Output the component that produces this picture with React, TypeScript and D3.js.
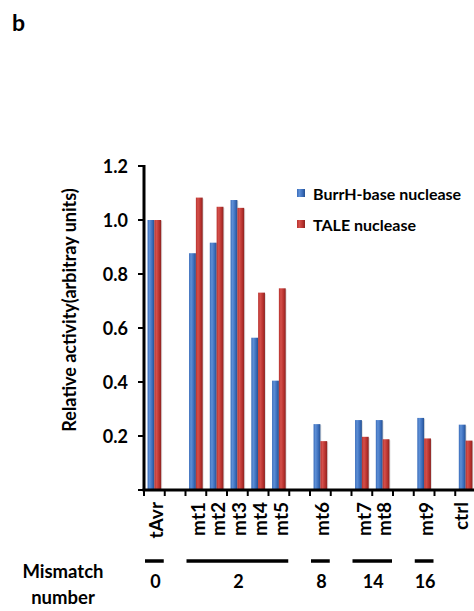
import { useEffect, useRef } from "react";
import * as d3 from "d3";

// categories incl. empty spacer slots (keys starting with _)
const categories = ["tAvr", "_g1", "mt1", "mt2", "mt3", "mt4", "mt5", "_g2", "mt6", "_g3", "mt7", "mt8", "_g4", "mt9", "_g5", "ctrl"];
const labelled = ["tAvr", "mt1", "mt2", "mt3", "mt4", "mt5", "mt6", "mt7", "mt8", "mt9", "ctrl"];
const burrh = [1.0, 0.877, 0.916, 1.074, 0.564, 0.405, 0.244, 0.259, 0.259, 0.267, 0.242];
const tale = [1.0, 1.083, 1.049, 1.045, 0.731, 0.747, 0.181, 0.197, 0.188, 0.191, 0.183];
const yTickValues = [0.2, 0.4, 0.6, 0.8, 1.0, 1.2];
const mismatchGroups = [
  { label: "0", from: "tAvr", to: "tAvr" },
  { label: "2", from: "mt1", to: "mt5" },
  { label: "8", from: "mt6", to: "mt6" },
  { label: "14", from: "mt7", to: "mt8" },
  { label: "16", from: "mt9", to: "mt9" },
];
const seriesNames = ["BurrH-base nuclease", "TALE nuclease"];

const W = 474;
const H = 611;
const M = { left: 144, right: -2, top: 166, bottom: 121 };
const FONT = "Lato, 'Open Sans', sans-serif";

export default function App() {
  const svgRef = useRef<SVGSVGElement>(null);

  useEffect(() => {
    const svg = d3.select(svgRef.current!);
    svg.selectAll("*").remove();

    const x = d3.scaleBand<string>().domain(categories).range([M.left, W - M.right]).padding(0);
    const inner = d3.scaleBand<string>().domain(["b", "t"]).range([0, x.bandwidth()]).paddingOuter(0.52).paddingInner(0);
    const y = d3.scaleLinear().domain([0, 1.2]).range([H - M.bottom, M.top]);

    const defs = svg.append("defs");
    const grad = (id: string, dark: string, mid: string, light: string) => {
      const g = defs.append("linearGradient").attr("id", id).attr("x1", 0).attr("x2", 1).attr("y1", 0).attr("y2", 0);
      g.append("stop").attr("offset", "0%").attr("stop-color", mid);
      g.append("stop").attr("offset", "30%").attr("stop-color", light);
      g.append("stop").attr("offset", "70%").attr("stop-color", mid);
      g.append("stop").attr("offset", "100%").attr("stop-color", dark);
    };
    grad("gBlue", "#24508f", "#3a6cba", "#5d8fd6");
    grad("gRed", "#8a2220", "#b8322e", "#d4504b");

    // panel letter
    svg.append("text").attr("x", 12).attr("y", 31).attr("font-family", FONT).attr("font-weight", 700)
      .attr("font-size", 23).text("b");

    // bars
    const gBars = svg.append("g");
    labelled.forEach((c, i) => {
      const bx = x(c)!;
      [
        { k: "b", v: burrh[i], fill: "url(#gBlue)" },
        { k: "t", v: tale[i], fill: "url(#gRed)" },
      ].forEach((s) => {
        const x0 = bx + inner(s.k)!;
        gBars.append("rect").attr("x", x0 + 1).attr("y", y(s.v) + 1).attr("width", inner.bandwidth())
          .attr("height", y(0) - y(s.v)).attr("fill", "#000").attr("opacity", 0.12);
        gBars.append("rect").attr("x", x0).attr("y", y(s.v)).attr("width", inner.bandwidth())
          .attr("height", y(0) - y(s.v)).attr("fill", s.fill);
      });
    });

    // y axis
    const yAxis = svg.append("g");
    yAxis.append("line").attr("x1", M.left).attr("x2", M.left).attr("y1", y(1.2) - 1).attr("y2", y(0))
      .attr("stroke", "#000").attr("stroke-width", 3);
    [0, ...yTickValues].forEach((v) => {
      yAxis.append("line").attr("x1", M.left - 6).attr("x2", M.left).attr("y1", y(v)).attr("y2", y(v))
        .attr("stroke", "#000").attr("stroke-width", 2);
    });
    yTickValues.forEach((v) => {
      yAxis.append("text").attr("x", M.left - 16).attr("y", y(v) + 1).attr("dy", "0.36em").attr("text-anchor", "end")
        .attr("font-family", FONT).attr("font-weight", 700).attr("font-size", 18).text(v.toFixed(1));
    });
    svg.append("text").attr("transform", `translate(76,310) rotate(-90)`)
      .attr("text-anchor", "middle").attr("font-family", FONT).attr("font-weight", 700).attr("font-size", 18)
      .text("Relative activity(arbitray units)");

    // x axis
    const xAxis = svg.append("g");
    xAxis.append("line").attr("x1", M.left - 1.5).attr("x2", W).attr("y1", y(0)).attr("y2", y(0))
      .attr("stroke", "#000").attr("stroke-width", 3);
    categories.forEach((c) => {
      const tx = x(c)!;
      xAxis.append("line").attr("x1", tx).attr("x2", tx).attr("y1", y(0)).attr("y2", y(0) + 6)
        .attr("stroke", "#000").attr("stroke-width", 2);
    });
    labelled.forEach((c) => {
      const cx = Math.min(x(c)! + x.bandwidth() / 2 + 2, W - 13);
      xAxis.append("text")
        .attr("transform", `translate(${cx},${y(0) + 12}) rotate(-90)`)
        .attr("dy", "0.36em").attr("text-anchor", "end").attr("font-family", FONT).attr("font-weight", 700)
        .attr("font-size", 19).text(c);
    });

    // mismatch groups
    const lineY = 561;
    mismatchGroups.forEach((g) => {
      const a = x(g.from)! + 1;
      const b = x(g.to)! + x.bandwidth() - 1;
      svg.append("line").attr("x1", a).attr("x2", b).attr("y1", lineY).attr("y2", lineY)
        .attr("stroke", "#000").attr("stroke-width", 3.5);
      svg.append("text").attr("x", (a + b) / 2 + 1).attr("y", 588).attr("text-anchor", "middle")
        .attr("font-family", FONT).attr("font-weight", 700).attr("font-size", 18).text(g.label);
    });
    svg.append("text").attr("x", 63).attr("y", 578).attr("text-anchor", "middle")
      .attr("font-family", FONT).attr("font-weight", 700).attr("font-size", 18.5).text("Mismatch");
    svg.append("text").attr("x", 63).attr("y", 604).attr("text-anchor", "middle")
      .attr("font-family", FONT).attr("font-weight", 700).attr("font-size", 18.5).text("number");

    // legend
    const legend = svg.append("g").attr("transform", "translate(297,189)");
    seriesNames.forEach((name, i) => {
      const row = legend.append("g").attr("transform", `translate(0,${i * 31})`);
      row.append("rect").attr("width", 8).attr("height", 8).attr("fill", i === 0 ? "url(#gBlue)" : "url(#gRed)");
      row.append("text").attr("x", 16).attr("y", 11).attr("font-family", FONT).attr("font-weight", 700)
        .attr("font-size", 16).text(name);
    });
  }, []);

  return (
    <svg ref={svgRef} width={W} height={H}
      style={{ position: "absolute", left: 0, top: 0, background: "#fff", display: "block" }} />
  );
}
